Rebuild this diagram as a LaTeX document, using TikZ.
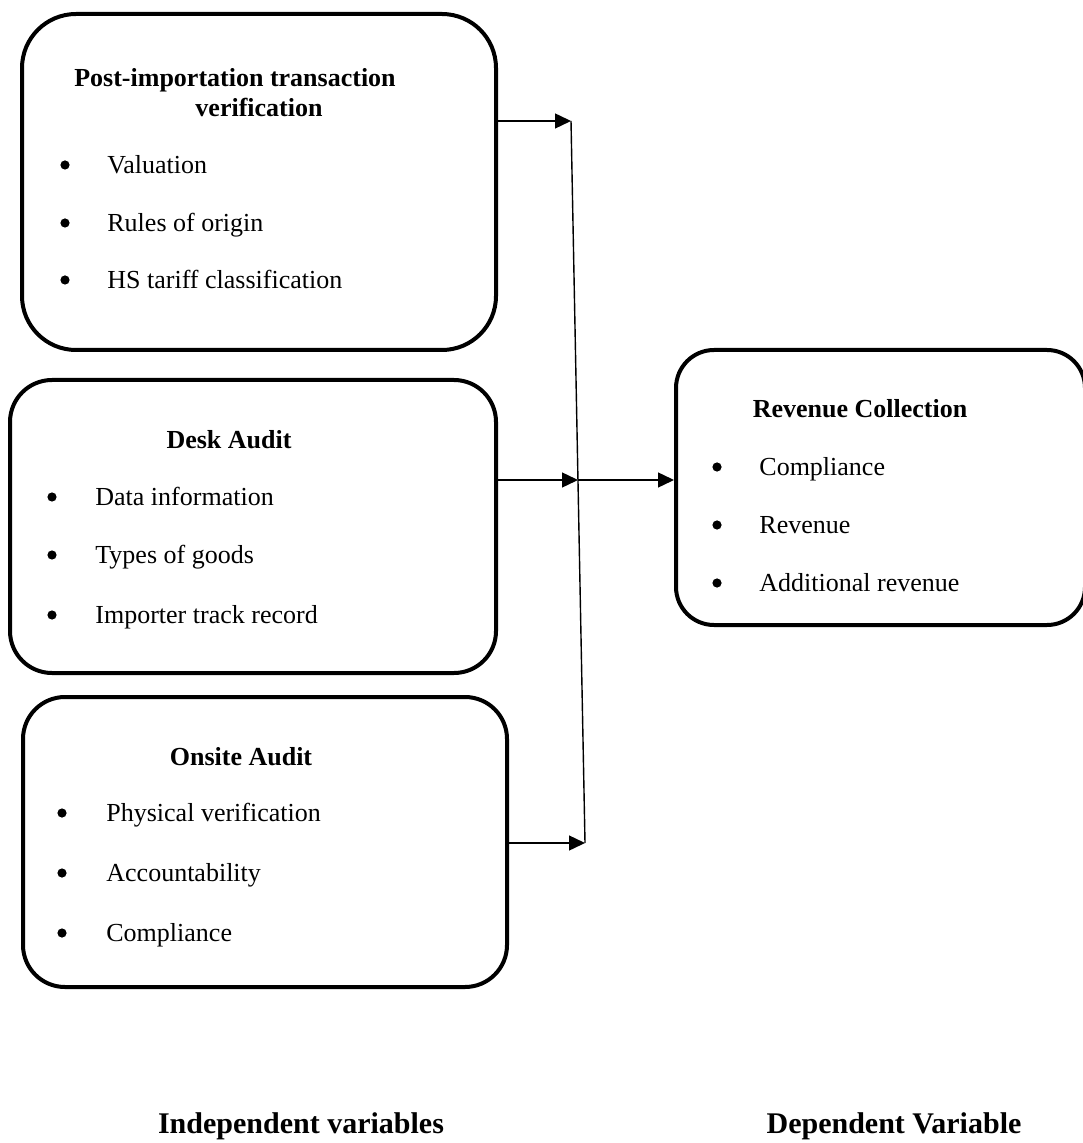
\documentclass[tikz,border=0pt]{standalone}
\usepackage{fontspec}
\setmainfont{Liberation Serif}
\usetikzlibrary{arrows.meta}

\begin{document}
\begin{tikzpicture}[x=0.5pt,y=-0.5pt,
    box/.style={draw=black,line width=2pt,rounded corners=21pt},
    head/.style={font=\fontsize{13}{16}\selectfont\bfseries,yshift=-1pt},
    item/.style={anchor=west,text height=1.5ex,text depth=0.25ex,yshift=-1.5pt},
    dot/.style={circle,fill=black,minimum size=4.6pt},
    arr/.style={line width=0.7pt,-{Triangle[length=8pt,width=7.5pt]}},
    label/.style={font=\fontsize{15}{18}\selectfont\bfseries}]
            \tikzstyle{every node}+=[inner sep=0pt,font=\fontsize{13}{16}\selectfont]
            \useasboundingbox (0,0) rectangle (1082,1143);
            \node [box,rounded corners=27pt,minimum width=237pt,minimum height=168pt] (post) at (259,182) {};
            \node [box,minimum width=243pt,minimum height=146.5pt] (desk) at (253,526.5) {};
            \node [box,minimum width=242pt,minimum height=145pt] (onsite) at (265,842) {};
            \node [box,rounded corners=19pt,minimum width=204.5pt,minimum height=137.5pt] (rev) at (880.5,487.5) {};
            \node [head] (posttitle) at (235,78) {Post-importation transaction};
            \node [head] (posttitleb) at (259,105) {verification};
            \node [dot] (postdot1) at (65,165) {};
            \node [item] (post1) at (107,165) {Valuation};
            \node [dot] (postdot2) at (65,223) {};
            \node [item] (post2) at (107,223) {Rules of origin};
            \node [dot] (postdot3) at (65,280) {};
            \node [item] (post3) at (107,280) {HS tariff classification};
            \node [head] (desktitle) at (229,438) {Desk Audit};
            \node [dot] (deskdot1) at (52,497) {};
            \node [item] (desk1) at (95,497) {Data information};
            \node [dot] (deskdot2) at (52,555) {};
            \node [item] (desk2) at (95,555) {Types of goods};
            \node [dot] (deskdot3) at (52,615) {};
            \node [item] (desk3) at (95,615) {Importer track record};
            \node [head] (onsitetitle) at (241,755) {Onsite Audit};
            \node [dot] (onsitedot1) at (62,813) {};
            \node [item] (onsite1) at (106,813) {Physical verification};
            \node [dot] (onsitedot2) at (62,873) {};
            \node [item] (onsite2) at (106,873) {Accountability};
            \node [dot] (onsitedot3) at (62,933) {};
            \node [item] (onsite3) at (106,933) {Compliance};
            \node [head] (revtitle) at (860,407) {Revenue Collection};
            \node [dot] (revdot1) at (717,467) {};
            \node [item] (rev1) at (759,467) {Compliance};
            \node [dot] (revdot2) at (717,525) {};
            \node [item] (rev2) at (759,525) {Revenue};
            \node [dot] (revdot3) at (717,583) {};
            \node [item] (rev3) at (759,583) {Additional revenue};
            \coordinate (j1) at (571,121);
            \coordinate (j2) at (578,480);
            \coordinate (j3) at (585,843);
            \draw [arr] (j1 -| post.east) -- (j1);
            \draw [arr] (j2 -| desk.east) -- (j2);
            \draw [arr] (j3 -| onsite.east) -- (j3);
            \draw [line width=0.7pt] (j1) -- (j3);
            \draw [arr] (j2) -- (j2 -| rev.west);
            \node [label] (indep) at (301,1126) {Independent variables};
            \node [label] (dep) at (894,1126) {Dependent Variable};
\end{tikzpicture}
\end{document}
